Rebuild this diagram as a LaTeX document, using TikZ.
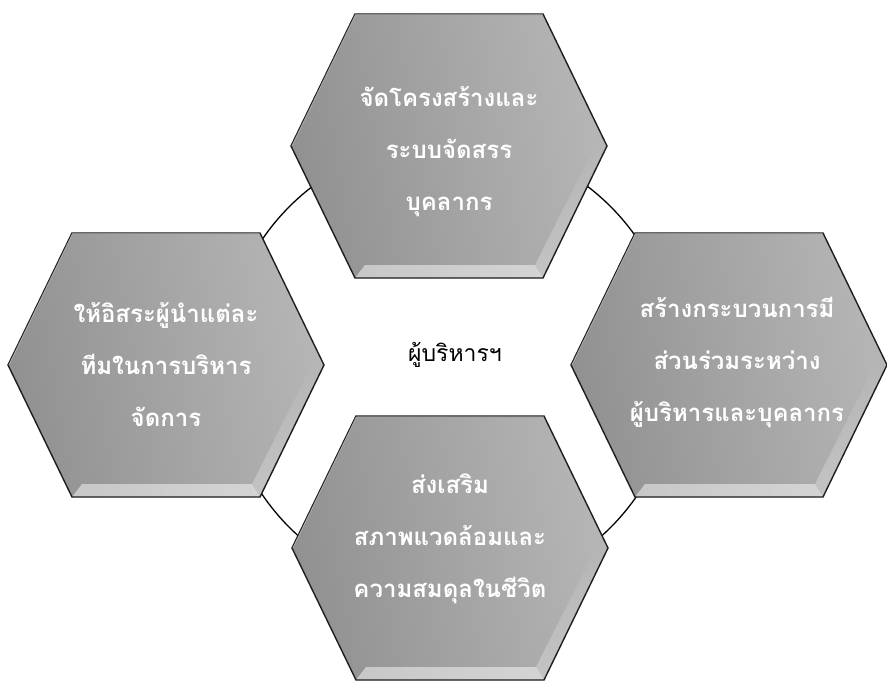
\documentclass[tikz,border=0pt]{standalone}
\usepackage{fontspec}
\newfontfamily\thaifont[Script=Thai]{Loma}
\definecolor{hexdark}{RGB}{145,145,145}
\definecolor{hexlight}{RGB}{182,182,182}
\definecolor{hexbevel}{RGB}{212,212,212}
\definecolor{hexedge}{RGB}{30,30,30}
\tikzset{
  hextext/.style={align=center, text=white, font=\thaifont\bfseries\fontsize{24}{52}\selectfont},
  centertext/.style={text=black, font=\thaifont\fontsize{23}{27}\selectfont},
  ring/.style={draw=black, line width=1.3pt}
}
\newcommand\hexshape[1]{%
  \shade[left color=hexdark, right color=hexlight, shading angle=100]
    ($(#1)+(-158,0)$) -- ($(#1)+(-94,-132)$) -- ($(#1)+(94,-132)$) -- ($(#1)+(158,0)$) -- ($(#1)+(94,132)$) -- ($(#1)+(-94,132)$) -- cycle;
  \shade[left color=hexbevel!85!gray, right color=hexbevel]
    ($(#1)+(-94,132)$) -- ($(#1)+(-84,119)$) -- ($(#1)+(86,119)$) -- ($(#1)+(94,132)$) -- cycle;
  \shade[top color=hexlight, bottom color=hexbevel, opacity=0.6]
    ($(#1)+(158,0)$) -- ($(#1)+(94,132)$) -- ($(#1)+(86,119)$) -- ($(#1)+(146,0)$) -- cycle;
  \draw[hexedge, line width=1.4pt, line join=miter]
    ($(#1)+(-158,0)$) -- ($(#1)+(-94,-132)$) -- ($(#1)+(94,-132)$) -- ($(#1)+(158,0)$) -- ($(#1)+(94,132)$) -- ($(#1)+(-94,132)$) -- cycle;
  \draw[gray!70, line width=1pt]
    ($(#1)+(-157,0)$) -- ($(#1)+(-93.5,-131)$) -- ($(#1)+(93.5,-131)$);
}
\usetikzlibrary{calc}
\begin{document}
\begin{tikzpicture}[x=1pt, y=-1pt]
\useasboundingbox (0,0) rectangle (887,682);
\coordinate (ctop) at (449,146);
\coordinate (cleft) at (166,365);
\coordinate (cright) at (729,365);
\coordinate (cbot) at (450,548);
\coordinate (ring) at (450,367);
\draw[ring] (ring) circle [radius=227];
\hexshape{ctop}
\hexshape{cleft}
\hexshape{cright}
\hexshape{cbot}
\node[hextext] (ttop) at (449,152) {จัดโครงสร้างและ\\ระบบจัดสรร\\บุคลากร};
\node[hextext] (tleft) at (166,365) {ให้อิสระผู้นำแต่ละ\\ทีมในการบริหาร\\จัดการ};
\node[hextext] (tright) at (737,362) {สร้างกระบวนการมี\\ส่วนร่วมระหว่าง\\ผู้บริหารและบุคลากร};
\node[hextext] (tbot) at (450,539) {ส่งเสริม\\สภาพแวดล้อมและ\\ความสมดุลในชีวิต};
\node[centertext] (center) at (455,355) {ผู้บริหารฯ};
\end{tikzpicture}
\end{document}
